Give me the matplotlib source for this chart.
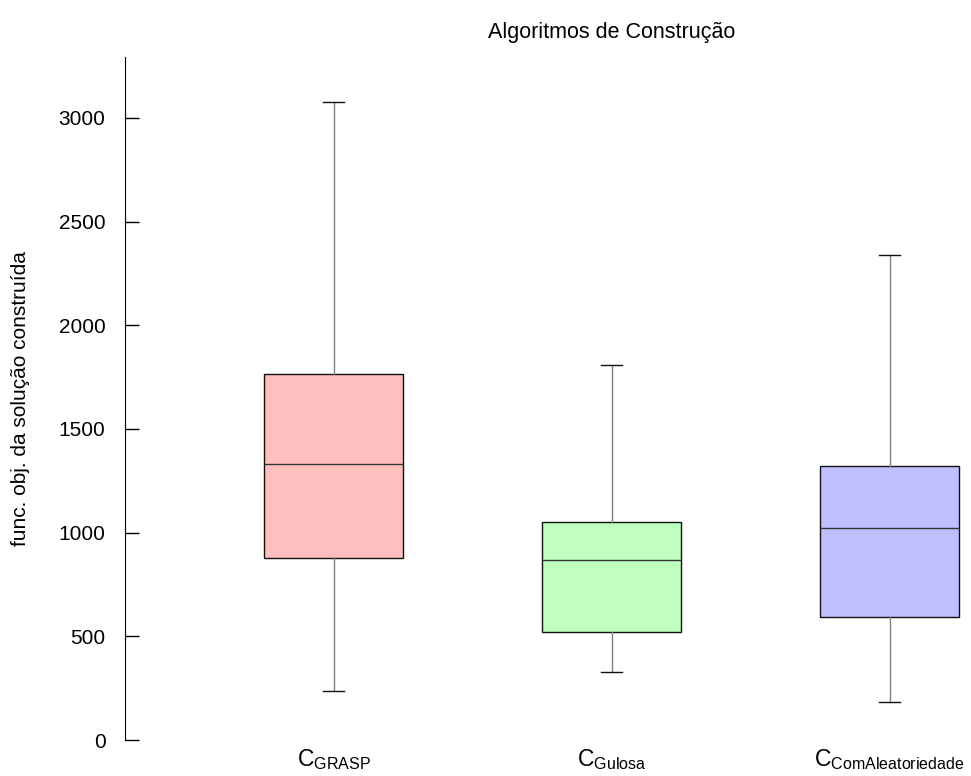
import matplotlib
matplotlib.use("Agg")
import matplotlib.pyplot as plt

plt.rcParams["font.family"] = ["Liberation Sans", "DejaVu Sans"]
plt.rcParams["mathtext.fontset"] = "custom"
plt.rcParams["mathtext.rm"] = "Liberation Sans"
plt.rcParams["mathtext.it"] = "Liberation Sans"

labels = [r"$\mathregular{C_{GRASP}}$", r"$\mathregular{C_{Gulosa}}$",
          r"$\mathregular{C_{ComAleatoriedade}}$"]
whislo = [236, 328, 183]
q1 = [878, 521, 593]
med = [1331, 868, 1023]
q3 = [1766, 1052, 1322]
whishi = [3078, 1809, 2340]
colors = ["#ffbfbf", "#bfffbf", "#bfbfff"]

stats = [dict(whislo=a, q1=b, med=c, q3=d, whishi=e, label=l)
         for a, b, c, d, e, l in zip(whislo, q1, med, q3, whishi, labels)]

fig = plt.figure(figsize=(9.71, 7.76), dpi=100)
ax = fig.add_axes([125 / 971, 36 / 776, 973 / 971, 683 / 776])

bp = ax.bxp(stats, positions=[1, 2, 3], widths=0.5, showfliers=False,
            patch_artist=True,
            boxprops=dict(edgecolor="#111111", linewidth=1.0),
            medianprops=dict(color="#333333", linewidth=1.0),
            whiskerprops=dict(color="#808080", linewidth=1.0),
            capprops=dict(color="#111111", linewidth=1.0), capwidths=0.072)
for patch, c in zip(bp["boxes"], colors):
    patch.set_facecolor(c)

ax.set_xlim(0.25, 3.75)
ax.set_ylim(0, 3294)
ax.set_yticks([0, 500, 1000, 1500, 2000, 2500, 3000])
for s in ["top", "right", "bottom"]:
    ax.spines[s].set_visible(False)
ax.tick_params(axis="y", direction="in", length=10, width=1, pad=14, labelsize=15)
ax.tick_params(axis="x", length=0, pad=5, labelsize=16.5)
ax.set_ylabel("func. obj. da solução construída", fontsize=15, labelpad=21)
ax.set_title("Algoritmos de Construção", fontsize=15.5, pad=14)

fig.savefig("out.png", dpi=100)
